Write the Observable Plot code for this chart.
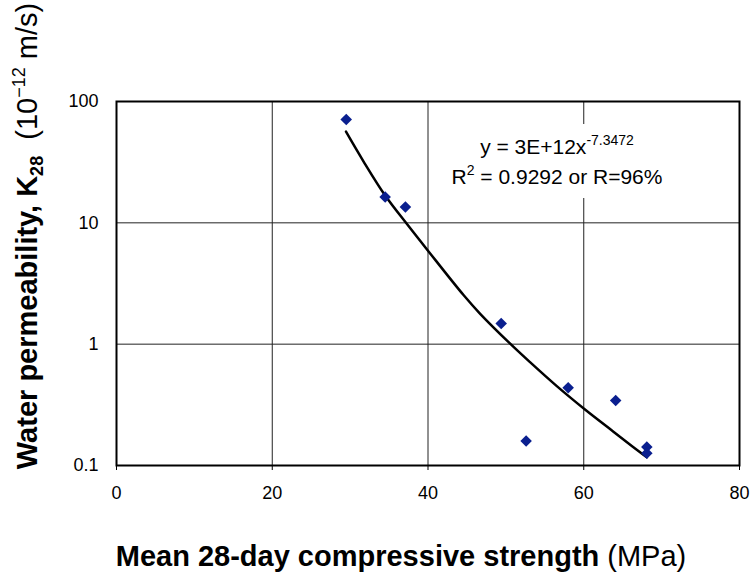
<!DOCTYPE html>
<html>
<head>
<meta charset="utf-8">
<script src="https://cdn.jsdelivr.net/npm/d3@7"></script>
<script src="https://cdn.jsdelivr.net/npm/@observablehq/plot@0.6"></script>
<style>
  html, body { margin: 0; padding: 0; background: #fff; }
  svg text { font-family: "Liberation Sans", Arial, Helvetica, sans-serif; }
</style>
</head>
<body>
<div id="chart"></div>
<script>
// Measured data
const strength = [29.5, 34.5, 37.1, 49.4, 52.6, 58.0, 64.1, 68.1, 68.1];
const permeability = [71, 16.3, 13.5, 1.48, 0.159, 0.438, 0.344, 0.142, 0.126];

// Trendline
const trendX = [29.47, 31.73, 34.5, 37.3, 40.0, 44.56, 46.7, 50.55, 53.1, 56.54, 60.2, 63.77, 66.17, 68.1];
const trendY = [56.4, 32.0, 16.8, 9.77, 5.89, 2.54, 1.78, 1.01, 0.711, 0.451, 0.288, 0.191, 0.145, 0.117];

const xTicks = [0, 20, 40, 60, 80];
const yTicks = [0.1, 1, 10, 100];
const yTickLabels = ["0.1", "1", "10", "100"];

const points = strength.map((s, i) => ({x: s, y: permeability[i]}));
const trend = trendX.map((s, i) => ({x: s, y: trendY[i]}));

const plot = Plot.plot({
  width: 751,
  height: 575,
  marginLeft: 116,
  marginRight: 12,
  marginTop: 101,
  marginBottom: 110,
  style: {fontFamily: "'Liberation Sans', Arial, sans-serif", fontSize: "18px", color: "black", background: "white"},
  x: {domain: [0, 80], label: null},
  y: {type: "log", domain: [0.1, 100], label: null},
  marks: [
    Plot.gridX(xTicks, {stroke: "#222", strokeOpacity: 1, strokeWidth: 1}),
    Plot.gridY(yTicks, {stroke: "#222", strokeOpacity: 1, strokeWidth: 1}),
    Plot.frame({stroke: "black", strokeWidth: 2}),
    Plot.axisX({ticks: xTicks, tickSize: 5, tickPadding: 16, fontSize: 18, label: null}),
    Plot.axisY({ticks: yTicks, tickSize: 0, tickPadding: 18, fontSize: 18, label: null, tickFormat: (d) => yTickLabels[yTicks.indexOf(d)] ?? ""}),
    Plot.line(trend, {x: "x", y: "y", stroke: "black", strokeWidth: 2.5, curve: "catmull-rom"}),
    Plot.dot(points, {x: "x", y: "y", symbol: "diamond2", r: 5.2, fill: "#0a1f8f", stroke: "none"})
  ]
});

document.getElementById("chart").appendChild(plot);
const svg = d3.select(plot);

// Annotation box with equation
const ann = svg.append("g").attr("class", "annotation");
const annText = ann.append("text").attr("text-anchor", "middle").attr("font-size", 21).attr("fill", "black");
const l1 = annText.append("tspan").attr("x", 557).attr("y", 154);
l1.append("tspan").text("y = 3E+12x");
l1.append("tspan").attr("font-size", 14).attr("dy", -9).text("-7.3472");
const l2 = annText.append("tspan").attr("x", 557).attr("y", 184);
l2.append("tspan").text("R");
l2.append("tspan").attr("font-size", 14).attr("dy", -9).text("2");
l2.append("tspan").attr("dy", 9).text(" = 0.9292 or R=96%");
const bb = annText.node().getBBox();
ann.insert("rect", "text")
  .attr("x", bb.x - 4).attr("y", bb.y - 8)
  .attr("width", bb.width + 8).attr("height", bb.height + 18)
  .attr("fill", "white");

// Y axis label
const yl = svg.append("text")
  .attr("transform", "translate(37,236) rotate(-90)")
  .attr("text-anchor", "middle")
  .attr("font-size", 29)
  .attr("fill", "black");
yl.append("tspan").attr("font-weight", "bold").text("Water permeability, K");
yl.append("tspan").attr("font-weight", "bold").attr("font-size", 18).attr("dy", 6).text("28");
yl.append("tspan").attr("dy", -6).text("  (10");
yl.append("tspan").attr("font-size", 18).attr("dy", -12).text("\u221212");
yl.append("tspan").attr("dy", 12).text(" m/s)");

// X axis label
const xl = svg.append("text")
  .attr("x", 401).attr("y", 566)
  .attr("text-anchor", "middle")
  .attr("font-size", 29)
  .attr("fill", "black");
xl.append("tspan").attr("font-weight", "bold").text("Mean 28-day compressive strength");
xl.append("tspan").text(" (MPa)");
</script>
</body>
</html>
